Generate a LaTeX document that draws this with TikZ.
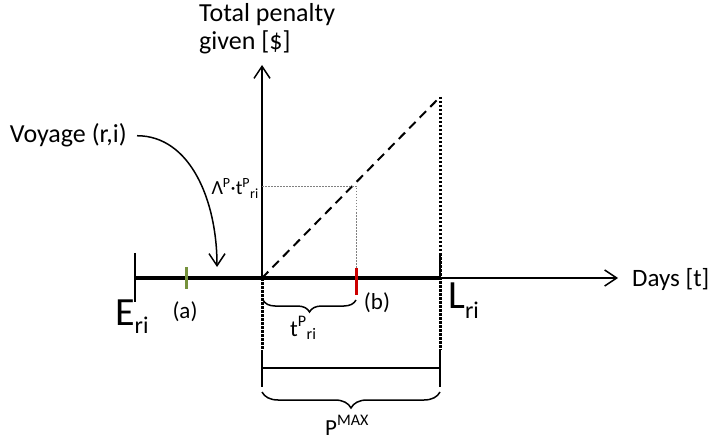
\documentclass[tikz,border=0pt]{standalone}
\usepackage{fontspec}
\setmainfont{Carlito}
\usetikzlibrary{positioning,arrows.meta,decorations.pathreplacing,calc}
\definecolor{earlycolor}{RGB}{118,146,60}
\definecolor{latecolor}{RGB}{204,0,0}

\begin{document}
\begin{tikzpicture}[x=1pt, y=-1pt,
  lbl/.style    = {font=\fontsize{23}{28}\selectfont, inner sep=0pt},
  hdrlbl/.style = {font=\fontsize{26}{28}\selectfont, inner sep=0pt},
  biglbl/.style = {font=\fontsize{40}{40}\selectfont, inner sep=0pt},
  smalllbl/.style = {font=\fontsize{20}{24}\selectfont, inner sep=0pt},
  axis/.style   = {line width=1.5pt, -{Straight Barb[length=12pt,width=16pt]}},
  window/.style = {line width=4.5pt},
  guide/.style  = {line width=3pt, dash pattern=on 2.5pt off 1.5pt},
  helper/.style = {gray, line width=0.8pt, dash pattern=on 1.5pt off 1.5pt},
  rate/.style   = {line width=2pt, dash pattern=on 9pt off 6pt},
  tickline/.style = {line width=3pt},
  brc/.style    = {decorate, line width=1.5pt,
                   decoration={brace, mirror, amplitude=#1}},
]
\useasboundingbox (0,0) rectangle (713,441);

\def\Xe{135}
\def\Xa{186}
\def\Xo{262}
\def\Xb{356}
\def\Xl{440}
\def\Yt{278}

\coordinate (E) at (\Xe,\Yt);
\coordinate (O) at (\Xo,\Yt);
\coordinate (B) at (\Xb,\Yt);
\coordinate (L) at (\Xl,\Yt);
\coordinate (tend) at (618,\Yt);
\coordinate (yend) at (\Xo,65);
\coordinate (pmax) at (\Xl,97);
\coordinate (plevel) at (\Xb,186);
\coordinate (hit) at (217,267);

% axes and time window
\draw[axis] (O) -- (tend);
\draw[axis] (O) -- (yend);
\draw[window] (E) -- (L);

% ticks on the time axis
\draw[line width=2pt] ($(E)+(0,-25)$) -- ($(E)+(0,24)$);
\draw[line width=2pt] ($(L)+(0,-25)$) -- (L);
\draw[tickline, earlycolor] (\Xa,267) -- (\Xa,289);
\draw[tickline, latecolor] ($(B)+(0,-10)$) -- ($(B)+(0,17)$);

% penalty line
\draw[rate] (O) -- (pmax);
\draw[helper] (O |- plevel) -- (plevel) -- ($(B)+(0,-10)$);

% dotted verticals and P^MAX span
\foreach \x in {\Xo,\Xl}{
  \draw[line width=1.5pt] (\x,350) -- (\x,387);
}
\draw[guide] (O) -- (\Xo,350);
\draw[guide] (pmax) -- (\Xl,350);
\draw[line width=1.5pt] (\Xo,368) -- (\Xl,368);

\draw[brc=12pt] (263,300) -- (356,300);
\draw[brc=16pt] (\Xo,392) -- (\Xl,392);

% labels
\node[hdrlbl, anchor=north west, align=left] (ylbl) at (199,3)
      {Total penalty\\given [\$]};
\node[lbl, font=\fontsize{25}{28}\selectfont, anchor=base west] (tlbl)
      at (632,287) {Days [t]};
\node[hdrlbl, anchor=base east] (voy) at (127,143) {Voyage (r,i)};
\node[smalllbl, anchor=base east] (plbl) at (259,195)
      {Λ\textsuperscript{P}·t\textsuperscript{P}\textsubscript{ri}};
\node[biglbl, anchor=base west] (elbl) at (115,325)
      {E\raisebox{-8pt}{\fontsize{24}{28}\selectfont ri}};
\node[biglbl, anchor=base west] (llbl) at (448,308)
      {L\raisebox{-10pt}{\fontsize{24}{28}\selectfont ri}};
\node[lbl] (alb) at (185,312) {(a)};
\node[lbl] (blb) at (377,303) {(b)};
\node[lbl, anchor=base west] (tplbl) at (290,336)
      {t\textsuperscript{P}\textsubscript{ri}};
\node[lbl, anchor=base west] (pmlbl) at (325,435)
      {P\textsuperscript{MAX}};

\draw[line width=1.5pt, -{Straight Barb[length=12pt,width=16pt]}]
  ([xshift=10pt]voy.east) .. controls +(53,0) and +(0,-67) .. (hit);
\end{tikzpicture}
\end{document}
